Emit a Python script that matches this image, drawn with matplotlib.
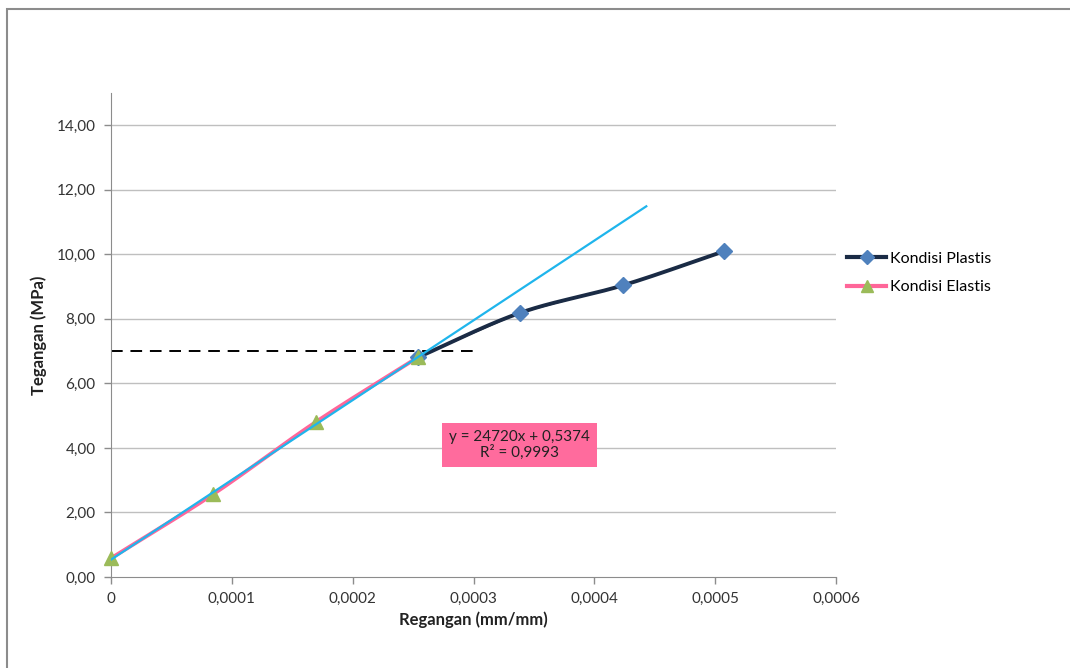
import numpy as np
import matplotlib
matplotlib.use("Agg")
import matplotlib.pyplot as plt
from matplotlib.patches import Rectangle
from matplotlib.lines import Line2D
from matplotlib.ticker import FuncFormatter

plt.rcParams['font.family'] = ['Lato', 'DejaVu Sans']

# Strain (mm/mm) and stress (MPa)
elastis_x = [0.0, 0.0000847, 0.0001694, 0.0002541]
elastis_y = [0.58, 2.57, 4.80, 6.81]
plastis_x = [0.0002541, 0.0003381, 0.0004237, 0.0005076]
plastis_y = [6.81, 8.18, 9.04, 10.10]

# Linear trendline of the elastic region
trend_slope = 24720
trend_intercept = 0.5374
trend_r2 = 0.9993
trend_x_end = 0.000443

yield_stress = 7.0
yield_x_end = 0.0003

x_ticks = [0, 0.0001, 0.0002, 0.0003, 0.0004, 0.0005, 0.0006]
y_ticks = [0, 2, 4, 6, 8, 10, 12, 14]


def smooth(xs, ys, n=60):
    """Cubic Hermite smoothing through the given points."""
    pts = np.column_stack([xs, ys]).astype(float)
    p = np.vstack([pts[0] - (pts[1] - pts[0]), pts, pts[-1] + (pts[-1] - pts[-2])])
    out = []
    for i in range(1, len(p) - 2):
        p0, p1, p2, p3 = p[i - 1], p[i], p[i + 1], p[i + 2]
        t = np.linspace(0, 1, n)[:, None]
        m1 = (p2 - p0) / 2
        m2 = (p3 - p1) / 2
        h00 = 2 * t**3 - 3 * t**2 + 1
        h10 = t**3 - 2 * t**2 + t
        h01 = -2 * t**3 + 3 * t**2
        h11 = t**3 - t**2
        seg = h00 * p1 + h10 * m1 + h01 * p2 + h11 * m2
        out.append(seg if i == 1 else seg[1:])
    out = np.vstack(out)
    return out[:, 0], out[:, 1]


fig = plt.figure(figsize=(10.7, 6.68), dpi=100)
ax = fig.add_axes([111 / 1070, (668 - 577) / 668, (836 - 111) / 1070, (577 - 93) / 668])

# outer chart frame
fig.patches.append(Rectangle((7 / 1070, -0.1), 1.2, (664 - 5) / 668 + 0.1,
                             transform=fig.transFigure, fill=False,
                             edgecolor='#8c8c8c', linewidth=1.5))

ax.set_xlim(0, 0.0006)
ax.set_ylim(0, 15)
ax.set_xticks(x_ticks)
ax.set_yticks(y_ticks)
ax.xaxis.set_major_formatter(FuncFormatter(
    lambda v, _: '0' if v == 0 else f'{v:.4f}'.replace('.', ',')))
ax.yaxis.set_major_formatter(FuncFormatter(lambda v, _: f'{v:.2f}'.replace('.', ',')))
ax.tick_params(axis='both', colors='#8c8c8c', labelcolor='#333333', labelsize=11,
               length=5, width=1)
ax.tick_params(axis='x', pad=6)
ax.tick_params(axis='y', pad=6)

for y in y_ticks[1:]:
    ax.axhline(y, color='#bfbfbf', linewidth=1, zorder=0)
for side in ['top', 'right']:
    ax.spines[side].set_visible(False)
for side in ['left', 'bottom']:
    ax.spines[side].set_color('#8c8c8c')

ax.set_xlabel('Regangan (mm/mm)', fontsize=12, fontweight='bold', color='#222222', labelpad=4)
ax.set_ylabel('Tegangan (MPa)', fontsize=12, fontweight='bold', color='#222222', labelpad=7)

# yield stress reference
ax.plot([0, yield_x_end], [yield_stress, yield_stress], color='black', linestyle=(0, (6, 4)),
        linewidth=1.4, zorder=2)

# plastic region
px, py = smooth(plastis_x, plastis_y)
ax.plot(plastis_x, plastis_y, color='#444444', linewidth=0.8, zorder=3)
ax.plot(px, py, color='#1a2b45', linewidth=2.8, zorder=4)
ax.plot(plastis_x, plastis_y, linestyle='none', marker='D', markersize=8,
        color='#4f81bd', zorder=5)

# elastic region
ex, ey = smooth(elastis_x, elastis_y)
ax.plot(ex, ey, color='#ff6699', linewidth=2.8, zorder=4)
ax.plot(elastis_x, elastis_y, linestyle='none', marker='^', markersize=10,
        color='#9bbb59', zorder=6, clip_on=False)

# trendline
tx = np.array([0.0, trend_x_end])
ax.plot(tx, trend_slope * tx + trend_intercept, color='#1fb5ec', linewidth=1.6, zorder=6)

eq = (f'y = {trend_slope}x + {str(trend_intercept).replace(".", ",")}\n'
      f'R² = {str(trend_r2).replace(".", ",")}')
ax.text(0.0003382, 4.1, eq, ha='center', va='center', fontsize=11, color='#222222',
        linespacing=1.1, zorder=7,
        bbox=dict(boxstyle='square,pad=0.45', facecolor='#ff6b9d', edgecolor='none'))

# legend
handles = [
    Line2D([], [], color='#1a2b45', linewidth=3, marker='D', markersize=7,
           markerfacecolor='#4f81bd', markeredgecolor='#4f81bd'),
    Line2D([], [], color='#ff6699', linewidth=3, marker='^', markersize=9,
           markerfacecolor='#9bbb59', markeredgecolor='#9bbb59'),
]
fig.legend(handles, ['Kondisi Plastis', 'Kondisi Elastis'], loc='center left',
           bbox_to_anchor=(833 / 1070, (668 - 273) / 668), frameon=False, fontsize=11.5,
           handlelength=2.4, handletextpad=0.3, labelspacing=0.9)

fig.savefig('out.png', dpi=100)
